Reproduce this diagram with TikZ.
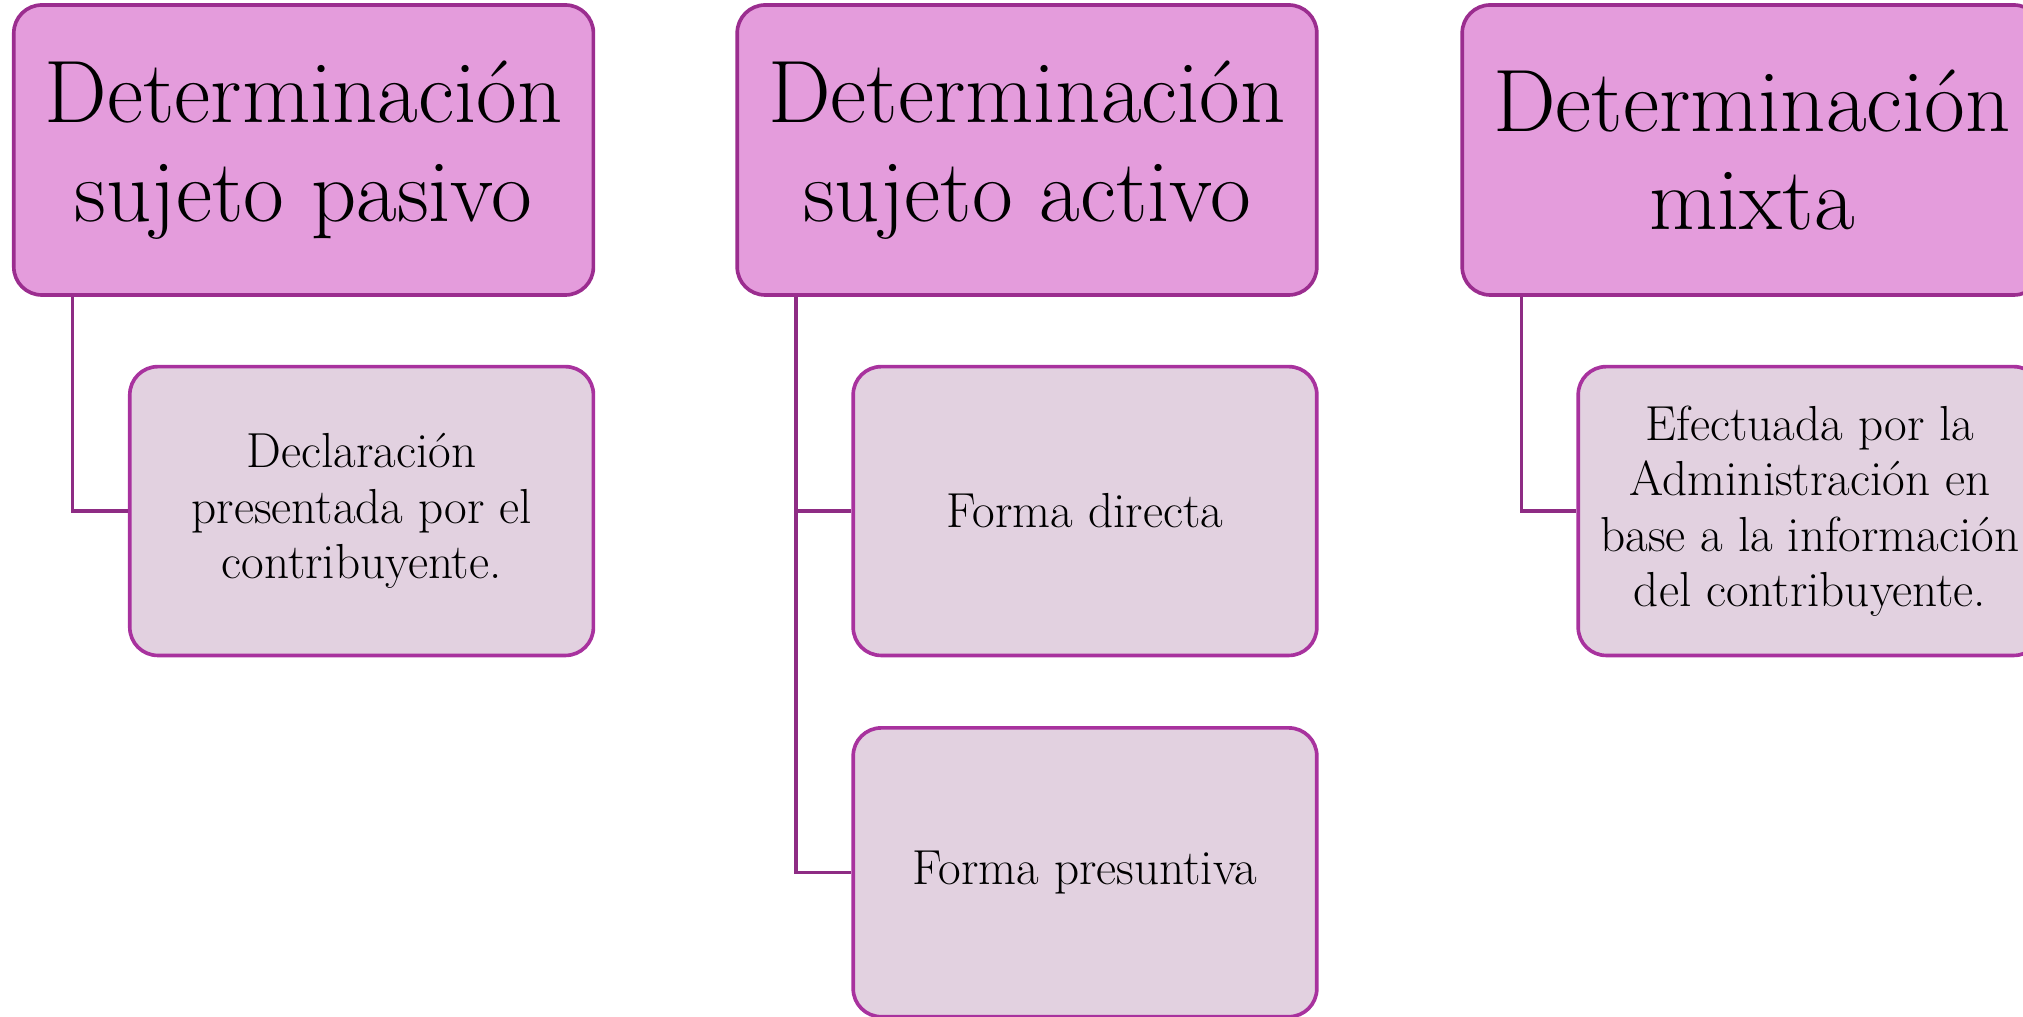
\documentclass[tikz,border=0pt]{standalone}
\usetikzlibrary{positioning}
\definecolor{headfill}{HTML}{E49CDC}
\definecolor{headline}{HTML}{9B2D8F}
\definecolor{subfill}{HTML}{E2D1E0}
\definecolor{subline}{HTML}{A8329E}
\definecolor{linkline}{HTML}{8E2C84}
\tikzset{
  headbox/.style={draw=headline, fill=headfill, line width=2.6pt, rounded corners=0.7cm,
    minimum width=14.49cm, minimum height=7.25cm, align=center,
    font=\fontsize{63}{70}\selectfont},
  subbox/.style={draw=subline, fill=subfill, line width=2.6pt, rounded corners=0.7cm,
    minimum width=11.59cm, minimum height=7.22cm, align=center,
    font=\fontsize{35}{39.5}\selectfont},
  link/.style={draw=linkline, line width=2.4pt}
}
\begin{document}
\begin{tikzpicture}
\path[use as bounding box] (0,0) rectangle (50.575,25.4);
\clip (0,0) rectangle (50.575,25.4);
% encabezados
\node[headbox] (pasivo) at (7.59,21.65) {Determinación\\sujeto pasivo};
\node[headbox] (activo) at (25.675,21.65) {Determinación\\sujeto activo};
\node[headbox] (mixta) at (43.8,21.65) {Determinación\\mixta};
% detalles
\node[subbox, below left=1.7cm and 0cm of pasivo.south east] (declaracion) {Declaración\\presentada por el\\contribuyente.};
\node[subbox, below left=1.7cm and 0cm of activo.south east] (directa) {Forma directa};
\node[subbox, below=1.72cm of directa] (presuntiva) {Forma presuntiva};
\node[subbox, below left=1.7cm and 0cm of mixta.south east] (efectuada) {Efectuada por la\\Administración en\\base a la información\\del contribuyente.};
% conectores
\draw[link] ([xshift=1.52cm]pasivo.south west) |- (declaracion.west);
\draw[link] ([xshift=1.52cm]activo.south west) |- (directa.west);
\draw[link] ([xshift=1.52cm]activo.south west) |- (presuntiva.west);
\draw[link] ([xshift=1.52cm]mixta.south west) |- (efectuada.west);
\end{tikzpicture}
\end{document}
